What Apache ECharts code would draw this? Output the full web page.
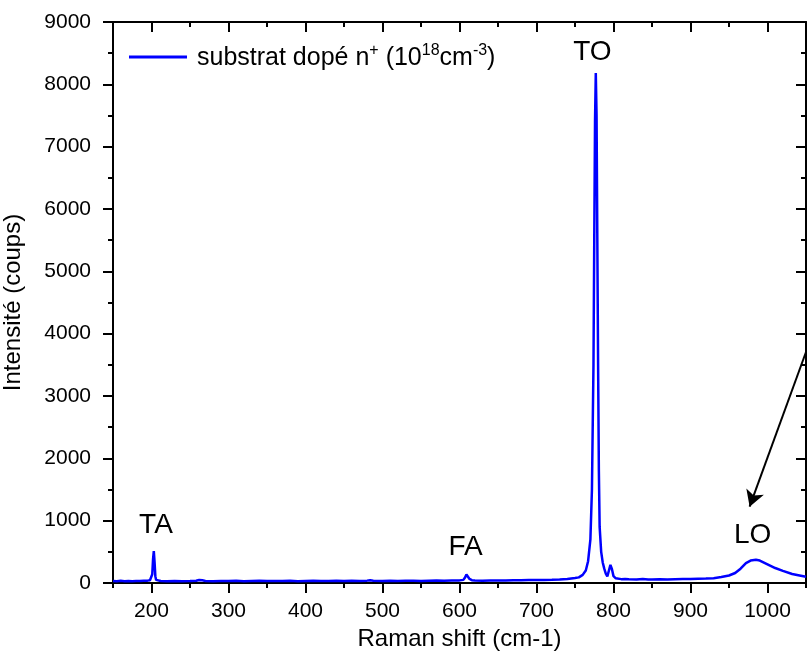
<!DOCTYPE html>
<html>
<head>
<meta charset="utf-8">
<script src="https://cdn.jsdelivr.net/npm/echarts@6/dist/echarts.min.js"></script>
<style>html,body{margin:0;padding:0;background:#fff;}#c{width:807px;height:658px;}</style>
</head>
<body>
<div id="c"></div>
<script>
const ramanShift = [150,155,160,165,170,175,180,185,190,195,198,200,201,202,203,204,205,206,208,212,220,230,240,250,258,262,264,266,270,280,290,300,310,320,330,340,350,360,370,380,390,400,410,420,430,440,450,460,470,480,484,488,500,510,520,530,540,550,560,570,580,590,600,605,607,609,611,613,616,620,630,640,650,660,670,680,690,700,710,720,730,740,750,755,760,764,767,770,772,774,775,776,777,778,779,780,781,782,784,786,788,790,792,794,796,797,798,800,803,810,815,820,830,838,845,850,860,870,880,890,900,910,920,930,940,950,958,965,972,978,985,990,1000,1010,1020,1032,1040,1050];
const intensity = [32,28,35,30,33,29,34,31,36,38,45,60,140,380,510,330,110,50,38,33,30,34,29,32,35,48,70,45,33,30,34,31,35,30,33,36,31,34,32,36,30,33,35,31,34,37,32,35,33,38,45,36,34,37,33,36,38,34,37,39,36,40,42,50,85,135,110,65,45,40,38,41,39,42,44,43,47,48,50,53,57,65,80,90,130,200,350,700,1500,3500,5500,7400,8180,7500,5500,3500,1800,900,500,330,230,150,105,130,290,300,220,110,75,62,64,60,58,66,57,56,59,57,61,63,64,68,72,78,95,120,160,230,320,360,372,360,300,240,195,145,125,100];
const xMajorTicks = [200,300,400,500,600,700,800,900,1000];
const xRange = {min:150, max:1050, minorInterval:50};
const yTicks = {min:0, max:9000, interval:1000};
const peakLabels = ['TA','FA','TO','LO'];
const peakPos = [[205.8,922],[607.8,578],[772.5,8519],[980.6,762]];
const arrowFrom = [1050,3706];
const arrowTo = [976.8,1224];
const seriesName = 'substrat dopé n+ (1018cm-3)';

const data = ramanShift.map((x,i)=>[x,intensity[i]]);
const font = 'Liberation Sans, Arial, sans-serif';
const chart = echarts.init(document.getElementById('c'));
const axisLine = {show:true, lineStyle:{color:'#000', width:2}};
const tickStyle = {color:'#000', width:2};
chart.setOption({
  animation:false,
  backgroundColor:'#fff',
  grid:{left:113, top:22, right:1, bottom:75, containLabel:false, outerBoundsMode:'none'},
  legend:{
    left:124, top:38, itemWidth:58, itemHeight:10, itemGap:0,
    icon:'path://M0,4 L58,4 L58,7 L0,7 Z',
    formatter:()=>'{a|substrat dopé n}{s|+}{a| (10}{s|18}{a|cm}{s|-3}{a|)}',
    textStyle:{
      fontFamily:font, color:'#000', padding:[0,0,0,5],
      rich:{
        a:{fontSize:25, fontFamily:font, color:'#000', lineHeight:28, verticalAlign:'bottom'},
        s:{fontSize:16, fontFamily:font, color:'#000', lineHeight:28, verticalAlign:'top', padding:[0,0,6,0]}
      }
    }
  },
  xAxis:[{
    type:'value', min:xRange.min, max:xRange.max,
    name:'Raman shift (cm-1)', nameLocation:'middle', nameGap:43,
    nameTextStyle:{fontFamily:font, fontSize:24, color:'#000'},
    axisLine:axisLine,
    axisTick:{show:true, inside:false, length:10, customValues:xMajorTicks, lineStyle:tickStyle},
    axisLabel:{fontFamily:font, fontSize:21, color:'#000', margin:18, customValues:xMajorTicks,
      formatter:v=>String(v)},
    splitLine:{show:false}
  },{
    type:'value', position:'bottom', min:xRange.min, max:xRange.max, interval:xRange.minorInterval,
    axisLine:{show:false},
    axisTick:{show:true, inside:false, length:5, lineStyle:tickStyle},
    axisLabel:{show:false}, splitLine:{show:false}
  },{
    type:'value', position:'top', min:xRange.min, max:xRange.max,
    axisLine:axisLine,
    axisTick:{show:true, inside:true, length:10, customValues:xMajorTicks, lineStyle:tickStyle},
    axisLabel:{show:false}, splitLine:{show:false}
  },{
    type:'value', position:'top', min:xRange.min, max:xRange.max, interval:xRange.minorInterval,
    axisLine:{show:false},
    axisTick:{show:true, inside:true, length:5, lineStyle:tickStyle},
    axisLabel:{show:false}, splitLine:{show:false}
  }],
  yAxis:[{
    type:'value', min:yTicks.min, max:yTicks.max, interval:yTicks.interval,
    name:'Intensité (coups)', nameLocation:'middle', nameGap:88, nameRotate:90,
    nameTextStyle:{fontFamily:font, fontSize:24, color:'#000'},
    axisLine:axisLine,
    axisTick:{show:true, inside:false, length:10, lineStyle:tickStyle},
    minorTick:{show:true, splitNumber:2, length:5, lineStyle:tickStyle},
    axisLabel:{fontFamily:font, fontSize:21, color:'#000', margin:22, formatter:v=>String(v)},
    splitLine:{show:false}
  },{
    type:'value', position:'right', min:yTicks.min, max:yTicks.max, interval:yTicks.interval,
    axisLine:axisLine,
    axisTick:{show:true, inside:true, length:10, lineStyle:tickStyle},
    minorTick:{show:true, splitNumber:2, length:5, lineStyle:tickStyle},
    axisLabel:{show:false}, splitLine:{show:false}
  }],
  series:[{
    name:seriesName, type:'line', data:data, symbol:'none', showSymbol:false,
    lineStyle:{color:'#0000ff', width:2.5}, itemStyle:{color:'#0000ff'},
    clip:true,
    markPoint:{
      symbol:'circle', symbolSize:0, silent:true,
      label:{show:true, position:'inside', formatter:'{b}', fontFamily:font, fontSize:28, color:'#000'},
      data: peakLabels.map((n,i)=>({name:n, coord:peakPos[i]}))
    },
    markLine:{
      silent:true, symbol:['none','arrow'], symbolSize:[14,16],
      lineStyle:{color:'#000', width:2, type:'solid'},
      label:{show:false},
      data:[[{coord:arrowFrom},{coord:arrowTo}]]
    }
  }]
});
</script>
</body>
</html>
